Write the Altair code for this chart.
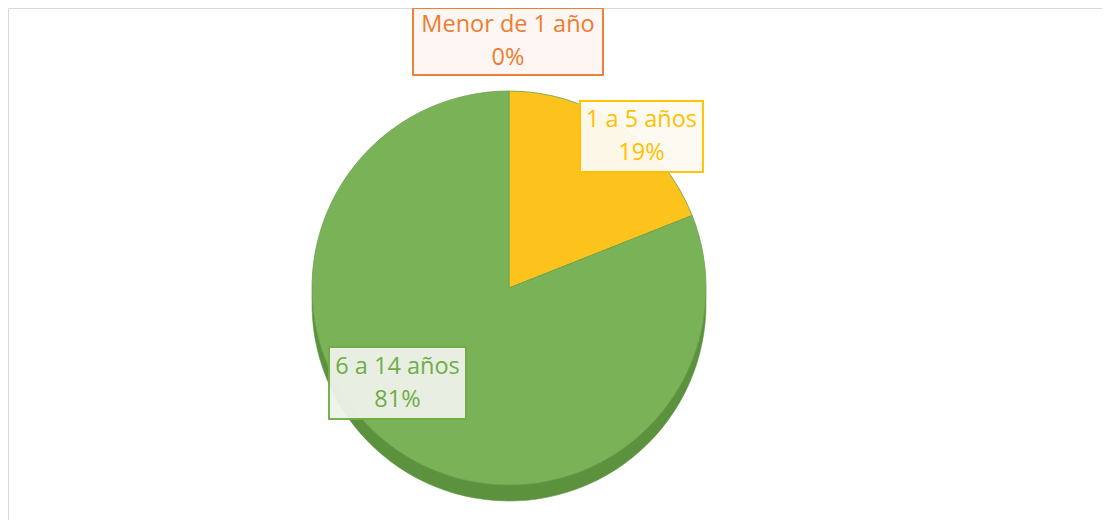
import altair as alt
import pandas as pd

categorias = ["Menor de 1 año", "1 a 5 años", "6 a 14 años"]
porcentajes = [0, 19, 81]
orden = [0, 1, 2]

colores_cara = ["#ED7D31", "#FBC31C", "#7AB258"]
colores_borde = ["#ED7D31", "#D9A300", "#5E9640"]
colores_lado = ["#D06A25", "#E5AE0A", "#5C913E"]

df = pd.DataFrame({"categoria": categorias, "valor": porcentajes, "orden": orden})
df["etiqueta"] = [f"{c}\n{p}%" for c, p in zip(categorias, porcentajes)]

CX, CY, R, DEPTH = 501, 280, 197, 16

base = alt.Chart(df)

lado = base.mark_arc(outerRadius=R, strokeWidth=0.6).encode(
    theta=alt.Theta("valor:Q", stack=True),
    order=alt.Order("orden:Q"),
    color=alt.Color("categoria:N", scale=alt.Scale(domain=categorias, range=colores_lado), legend=None),
    stroke=alt.Stroke("categoria:N", scale=alt.Scale(domain=categorias, range=colores_borde), legend=None),
    x=alt.value(CX),
    y=alt.value(CY + DEPTH),
)

cara = base.mark_arc(outerRadius=R, strokeWidth=0.8).encode(
    theta=alt.Theta("valor:Q", stack=True),
    order=alt.Order("orden:Q"),
    fill=alt.Fill("categoria:N", scale=alt.Scale(domain=categorias, range=colores_cara), legend=None),
    stroke=alt.value("#6E9F4E"),
    x=alt.value(CX),
    y=alt.value(CY),
)

# label boxes: (category index, x0, x1, y0, y1, fill, border)
cajas = [
    (0, 405, 595, 0, 67, "#FDF6F2", "#ED7D31"),
    (1, 572, 695, 93, 164, "#FDFAF1", "#FFC000"),
    (2, 321, 458, 339, 411, "#EEF3EA", "#70AD47"),
]

capas = [lado, cara]
for idx, x0, x1, y0, y1, fill, borde in cajas:
    d = base.transform_filter(alt.datum.categoria == categorias[idx])
    caja = d.mark_rect(fill=fill, stroke=borde, strokeWidth=2, opacity=0.95).encode(
        x=alt.value(x0), x2=alt.value(x1), y=alt.value(y0), y2=alt.value(y1)
    )
    texto = d.mark_text(
        font="Open Sans", fontSize=23.5, color=borde,
        lineBreak="\n", lineHeight=33, align="center", baseline="middle",
    ).encode(
        text="etiqueta:N",
        x=alt.value((x0 + x1) / 2),
        y=alt.value((y0 + y1) / 2 - 16.5),
    )
    capas += [caja, texto]

chart = alt.layer(*capas).resolve_scale(
    color="independent", fill="independent", stroke="independent"
).properties(
    width=1094, height=512, autosize="none", padding=0, background="white"
).configure_view(stroke="#D9D9D9")

chart.save("out.html", embed_options={"renderer": "svg", "actions": False})
